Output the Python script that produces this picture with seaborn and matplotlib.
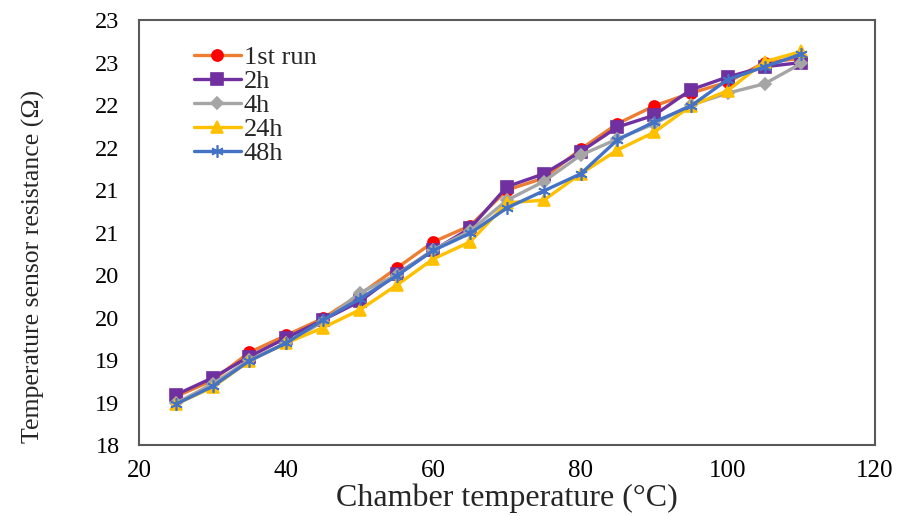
import matplotlib
matplotlib.use("Agg")
import matplotlib.pyplot as plt
import matplotlib.ticker as mticker
import math
import pandas as pd
import seaborn as sns

temps = [25, 30, 35, 40, 45, 50, 55, 60, 65, 70, 75, 80, 85, 90, 95, 100, 105, 110]

run1 = [18.57, 18.76, 19.09, 19.29, 19.49, 19.77, 20.08, 20.39, 20.58, 21.00,
        21.14, 21.48, 21.78, 21.99, 22.14, 22.27, 22.50, 22.55]
h2 = [18.59, 18.79, 19.04, 19.26, 19.47, 19.69, 20.01, 20.29, 20.55, 21.04,
      21.19, 21.45, 21.74, 21.88, 22.18, 22.33, 22.45, 22.50]
h4 = [18.49, 18.72, 19.00, 19.20, 19.45, 19.79, 20.00, 20.30, 20.52, 20.88,
      21.10, 21.41, 21.60, 21.78, 22.00, 22.14, 22.25, 22.49]
h24 = [18.48, 18.68, 18.99, 19.20, 19.38, 19.59, 19.88, 20.19, 20.39, 20.85,
       20.88, 21.19, 21.47, 21.68, 21.99, 22.17, 22.51, 22.63]
h48 = [18.48, 18.69, 18.99, 19.20, 19.47, 19.72, 19.99, 20.29, 20.49, 20.79,
       20.99, 21.19, 21.59, 21.80, 21.99, 22.30, 22.45, 22.60]

series = {"1st run": run1, "2h": h2, "4h": h4, "24h": h24, "48h": h48}

styles = {
    "1st run": dict(color="#ED7D31", marker="o", mfc="#FF0000", mec="#FF0000", ms=8),
    "2h": dict(color="#7030A0", marker="s", mfc="#7030A0", mec="#7030A0", ms=8),
    "4h": dict(color="#A5A5A5", marker="D", mfc="#A5A5A5", mec="#A5A5A5", ms=6),
    "24h": dict(color="#FFC000", marker="^", mfc="#FFC000", mec="#FFC000", ms=8),
    "48h": dict(color="#4472C4", marker=(6, 2, 0), mfc="#4472C4", mec="#4472C4", ms=9),
}

sns.set_style("white")
plt.rcParams["font.family"] = ["Liberation Serif", "DejaVu Serif"]

fig = plt.figure(figsize=(8.99, 5.16), dpi=100)
ax = fig.add_axes([0.1546, 0.1376, 0.8187, 0.8236])

for name, vals in series.items():
    df = pd.DataFrame({"temp": temps, "res": vals})
    st = styles[name]
    sns.lineplot(data=df, x="temp", y="res", ax=ax, color=st["color"], linewidth=2.4,
                 marker=st["marker"], markersize=st["ms"], markerfacecolor=st["mfc"],
                 markeredgecolor=st["mec"], markeredgewidth=1.2, label=name)

ax.set_xlim(20, 120)
ax.set_ylim(18, 23)
ax.xaxis.set_major_locator(mticker.MultipleLocator(20))
ax.xaxis.set_minor_locator(mticker.MultipleLocator(4))
ax.yaxis.set_major_locator(mticker.MultipleLocator(0.5))
ax.yaxis.set_minor_locator(mticker.MultipleLocator(0.1))
ax.yaxis.set_major_formatter(mticker.FuncFormatter(lambda v, p: "%d" % math.floor(v + 0.5)))

ax.tick_params(axis="both", which="both", direction="in", colors="#404040", labelcolor="black")
ax.tick_params(axis="x", which="major", length=6, width=1, labelsize=18, pad=11)
ax.tick_params(axis="x", which="minor", length=4, width=1)
ax.tick_params(axis="y", which="major", length=6, width=1, labelsize=17.5, pad=14)
ax.tick_params(axis="y", which="minor", length=6, width=1)

for sp in ax.spines.values():
    sp.set_color("#595959")
    sp.set_linewidth(1.5)

ax.set_xlabel("Chamber temperature (°C)", fontsize=23, labelpad=1)
ax.set_ylabel("Temperature sensor resistance (Ω)", fontsize=18.5)
ax.yaxis.set_label_coords(-0.128, 0.42)

leg = ax.legend(loc="upper left", bbox_to_anchor=(0.06, 0.965), frameon=False,
                fontsize=19, handlelength=1.8, handletextpad=0.1, labelspacing=0.02,
                borderaxespad=0)

fig.savefig("out.png", dpi=100)
